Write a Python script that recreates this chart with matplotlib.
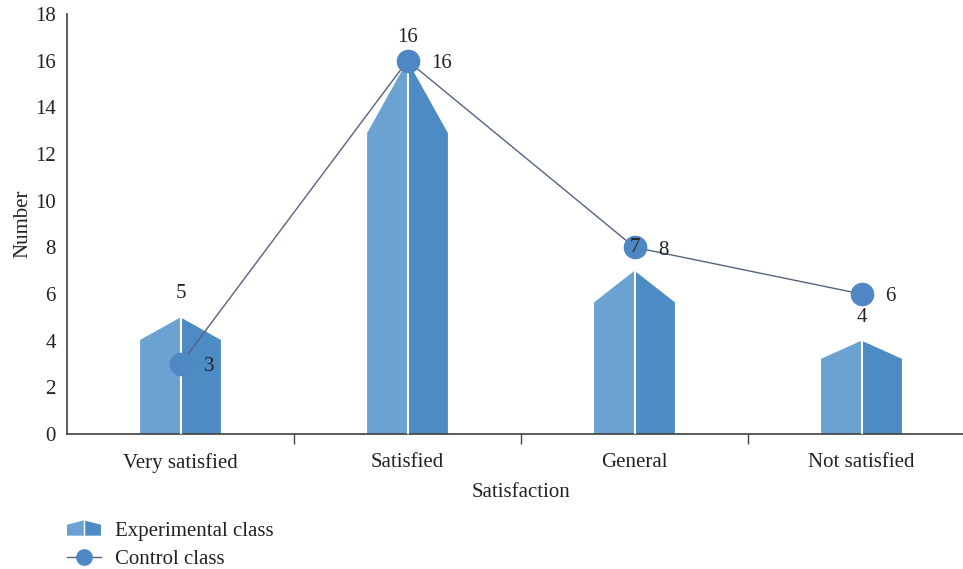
import matplotlib.pyplot as plt
from matplotlib.patches import Polygon
from matplotlib.lines import Line2D
from matplotlib.legend_handler import HandlerBase

plt.rcParams["font.family"] = ["Liberation Serif", "DejaVu Serif"]

# Data
categories = ["Very satisfied", "Satisfied", "General", "Not satisfied"]
experimental = [5, 16, 7, 4]
control = [3, 16, 8, 6]

light_blue = "#6ba2d2"
dark_blue = "#4d8bc4"
marker_blue = "#4f87c4"
line_col = "#56637f"
axis_col = "#404040"
text_col = "#222222"
fs = 15

fig = plt.figure(figsize=(9.63, 5.69), dpi=100)
ax = fig.add_axes([67 / 963, 135 / 569, 908 / 963, 420 / 569])

half = 0.178
for i, v in enumerate(experimental):
    s = v * 0.806
    ax.add_patch(Polygon([(i - half, 0), (i - half, s), (i, v), (i, 0)], closed=True,
                         facecolor=light_blue, edgecolor="none", zorder=2))
    ax.add_patch(Polygon([(i, 0), (i, v), (i + half, s), (i + half, 0)], closed=True,
                         facecolor=dark_blue, edgecolor="none", zorder=2))
    ax.plot([i, i], [0, v], color="white", lw=1.5, zorder=3)
    ax.annotate(str(v), (i, v), xytext=(0, 17), textcoords="offset points",
                ha="center", va="center", fontsize=fs, color=text_col, zorder=6)

ax.plot(range(len(control)), control, color=line_col, lw=1, marker="o", markersize=16,
        markerfacecolor=marker_blue, markeredgecolor=marker_blue, zorder=4)
for i, v in enumerate(control):
    ax.annotate(str(v), (i, v), xytext=(17, -2), textcoords="offset points",
                ha="left", va="center", fontsize=fs, color=text_col, zorder=6)

ax.set_xlim(-0.5, 3.5)
ax.set_ylim(0, 18)
ax.set_yticks(range(0, 19, 2))
ax.set_xticks(range(len(categories)))
ax.set_xticklabels(categories)
ax.set_xticks([0.5, 1.5, 2.5], minor=True)
ax.tick_params(axis="x", which="major", length=0, pad=14, labelsize=fs, labelcolor=text_col)
ax.tick_params(axis="x", which="minor", length=7, width=1, color=axis_col, direction="out")
ax.tick_params(axis="y", length=0, pad=8, labelsize=fs, labelcolor=text_col)
ax.set_xlabel("Satisfaction", fontsize=fs, color=text_col, labelpad=7)
ax.set_ylabel("Number", fontsize=fs, color=text_col, labelpad=2)
for side in ["top", "right"]:
    ax.spines[side].set_visible(False)
for side in ["left", "bottom"]:
    ax.spines[side].set_color(axis_col)
    ax.spines[side].set_linewidth(1.2)


class HouseHandler(HandlerBase):
    def create_artists(self, legend, orig_handle, xdescent, ydescent, width, height, fontsize, trans):
        x0, x1 = -xdescent, -xdescent + width
        xm = (x0 + x1) / 2
        y0 = -ydescent
        top = y0 + height * 1.05
        sh = y0 + height * 0.75
        left = Polygon([(x0, y0), (x0, sh), (xm, top), (xm, y0)], closed=True,
                       facecolor=light_blue, edgecolor="none", transform=trans)
        right = Polygon([(xm, y0), (xm, top), (x1, sh), (x1, y0)], closed=True,
                        facecolor=dark_blue, edgecolor="none", transform=trans)
        sep = Line2D([xm, xm], [y0, top], color="white", lw=1, transform=trans)
        return [left, right, sep]


house = Polygon([(0, 0)])
ctrl = Line2D([], [], color=line_col, lw=1, marker="o", markersize=11,
              markerfacecolor=marker_blue, markeredgecolor=marker_blue)
fig.legend([house, ctrl], ["Experimental class", "Control class"],
           handler_map={Polygon: HouseHandler()},
           loc="lower left", bbox_to_anchor=(67 / 963, 0), frameon=False,
           borderpad=0, borderaxespad=0,
           fontsize=fs, handlelength=1.63, handletextpad=0.67, labelspacing=0.42,
           labelcolor=text_col)

fig.savefig("out.png", dpi=100)
